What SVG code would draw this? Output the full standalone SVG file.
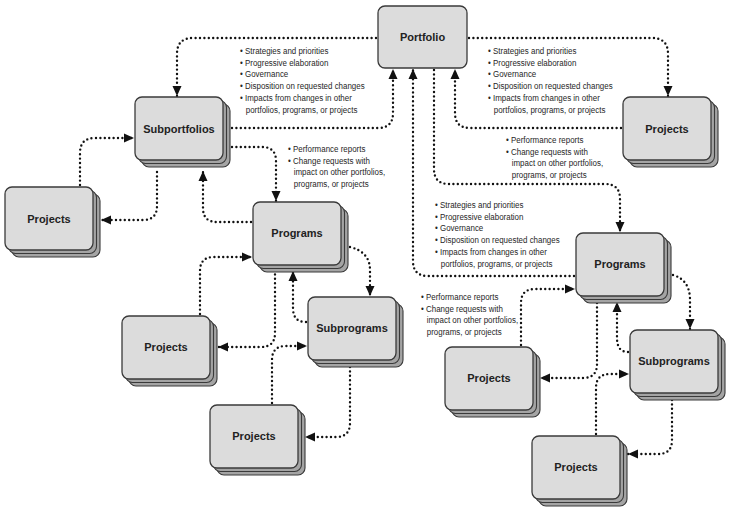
<svg xmlns="http://www.w3.org/2000/svg" xmlns:xlink="http://www.w3.org/1999/xlink" width="732" height="509" viewBox="0 0 732 509">
<style>
.f{fill:#dcdcdc;stroke:#3a3a3a;stroke-width:1.3}
.s{fill:#a4a4a4;stroke:#3a3a3a;stroke-width:1.1}
.lbl{font-family:"Liberation Sans",Arial,sans-serif;font-weight:bold;font-size:11px;fill:#222;text-anchor:middle}
.c path{fill:none;stroke:#111;stroke-width:2.4;stroke-dasharray:0 4.4;stroke-linecap:round}
.c path.a{marker-end:url(#ah)}
.t{font-family:"Liberation Sans",Arial,sans-serif;font-size:9.7px;fill:#262626}
</style>
<defs>
<marker id="ah" viewBox="0 0 10 10" refX="10" refY="5" markerWidth="10" markerHeight="10" markerUnits="userSpaceOnUse" orient="auto">
<path d="M0,0.5 L10,5 L0,9.5 z" fill="#111"/>
</marker>
<g id="stk">
<rect class="s" x="7" y="7" width="88" height="63" rx="7"/>
<rect class="s" x="3.5" y="3.5" width="88" height="63" rx="7"/>
<rect class="f" x="0" y="0" width="88" height="63" rx="7"/>
</g>
</defs>
<rect width="732" height="509" fill="#fff"/>

<g id="connectors" class="c">
<path class="a" d="M376,38 H193 Q177,38 177,54 V96"/>
<path class="a" d="M232,128 H378 Q393,128 393,113 V69"/>
<path class="a" d="M469,38 H652 Q668,38 668,54 V96"/>
<path class="a" d="M621,128 H470 Q455,128 455,113 V69"/>
<path class="a" d="M434,70 V169 Q434,184 449,184 H605 Q620,184 620,199 V232"/>
<path class="a" d="M574,276 H428 Q413,276 413,261 V69"/>
<path class="a" d="M232,147 H262 Q276,147 276,161 V201"/>
<path class="a" d="M251,222 H217 Q203,222 203,208 V171"/>
<path class="a" d="M80,185 V153 Q80,138 95,138 H134"/>
<path class="a" d="M157,172 V206 Q157,220 143,220 H101"/>
<path class="a" d="M275,270 V333 Q275,347 261,347 H218"/>
<path class="a" d="M200,314 V271 Q200,257 214,257 H252"/>
<path class="a" d="M306,322 Q293,322 293,308 V271"/>
<path class="a" d="M350,247 Q370,252 370,270 V296"/>
<path class="a" d="M350,367 V423 Q350,437 336,437 H305"/>
<path class="a" d="M272,403 V360 Q272,346 286,346 H307"/>
<path class="a" d="M597,303 V364 Q597,378 583,378 H540"/>
<path class="a" d="M521,345 V303 Q521,289 535,289 H575"/>
<path class="a" d="M628,352 Q617,352 617,338 V302"/>
<path class="a" d="M673,275 Q690,280 690,300 V329"/>
<path class="a" d="M672,400 V440 Q672,454 658,454 H628"/>
<path class="a" d="M596,434 V388 Q596,374 610,374 H629"/>
</g>

<g id="portfolio"><rect class="f" x="378" y="6" width="89" height="62" rx="7"/><text class="lbl" x="422.5" y="41">Portfolio</text></g>
<g id="subportfolios" transform="translate(135,97)"><use xlink:href="#stk"/><text class="lbl" x="44" y="36">Subportfolios</text></g>
<g id="projects-l1" transform="translate(5,187)"><use xlink:href="#stk"/><text class="lbl" x="44" y="36">Projects</text></g>
<g id="programs-l" transform="translate(253,202)"><use xlink:href="#stk"/><text class="lbl" x="44" y="35">Programs</text></g>
<g id="projects-tr" transform="translate(623,97)"><use xlink:href="#stk"/><text class="lbl" x="44" y="36">Projects</text></g>
<g id="programs-r" transform="translate(576,233)"><use xlink:href="#stk"/><text class="lbl" x="44" y="35">Programs</text></g>
<g id="subprograms-l" transform="translate(308,297)"><use xlink:href="#stk"/><text class="lbl" x="44" y="35">Subprograms</text></g>
<g id="projects-l2" transform="translate(122,316)"><use xlink:href="#stk"/><text class="lbl" x="44" y="35">Projects</text></g>
<g id="projects-l3" transform="translate(210,405)"><use xlink:href="#stk"/><text class="lbl" x="44" y="35">Projects</text></g>
<g id="subprograms-r" transform="translate(630,330)"><use xlink:href="#stk"/><text class="lbl" x="44" y="35">Subprograms</text></g>
<g id="projects-r2" transform="translate(445,347)"><use xlink:href="#stk"/><text class="lbl" x="44" y="35">Projects</text></g>
<g id="projects-r3" transform="translate(532,436)"><use xlink:href="#stk"/><text class="lbl" x="44" y="35">Projects</text></g>

<g id="notes" class="t">
<g transform="translate(240,0) scale(0.82,1)">
<text x="0" y="54">• Strategies and priorities</text>
<text x="0" y="66">• Progressive elaboration</text>
<text x="0" y="77">• Governance</text>
<text x="0" y="89">• Disposition on requested changes</text>
<text x="0" y="101">• Impacts from changes in other</text>
<text x="7" y="113">portfolios, programs, or projects</text>
</g>
<g transform="translate(488,0) scale(0.82,1)">
<text x="0" y="54">• Strategies and priorities</text>
<text x="0" y="66">• Progressive elaboration</text>
<text x="0" y="77">• Governance</text>
<text x="0" y="89">• Disposition on requested changes</text>
<text x="0" y="101">• Impacts from changes in other</text>
<text x="7" y="113">portfolios, programs, or projects</text>
</g>
<g transform="translate(288,0) scale(0.82,1)">
<text x="0" y="152">• Performance reports</text>
<text x="0" y="164">• Change requests with</text>
<text x="7" y="175">impact on other portfolios,</text>
<text x="7" y="187">programs, or projects</text>
</g>
<g transform="translate(506,0) scale(0.82,1)">
<text x="0" y="143">• Performance reports</text>
<text x="0" y="155">• Change requests with</text>
<text x="7" y="166">impact on other portfolios,</text>
<text x="7" y="178">programs, or projects</text>
</g>
<g transform="translate(435,0) scale(0.82,1)">
<text x="0" y="208">• Strategies and priorities</text>
<text x="0" y="220">• Progressive elaboration</text>
<text x="0" y="231">• Governance</text>
<text x="0" y="243">• Disposition on requested changes</text>
<text x="0" y="255">• Impacts from changes in other</text>
<text x="7" y="267">portfolios, programs, or projects</text>
</g>
<g transform="translate(421,0) scale(0.82,1)">
<text x="0" y="300">• Performance reports</text>
<text x="0" y="312">• Change requests with</text>
<text x="7" y="323">impact on other portfolios,</text>
<text x="7" y="335">programs, or projects</text>
</g>
</g>
</svg>
